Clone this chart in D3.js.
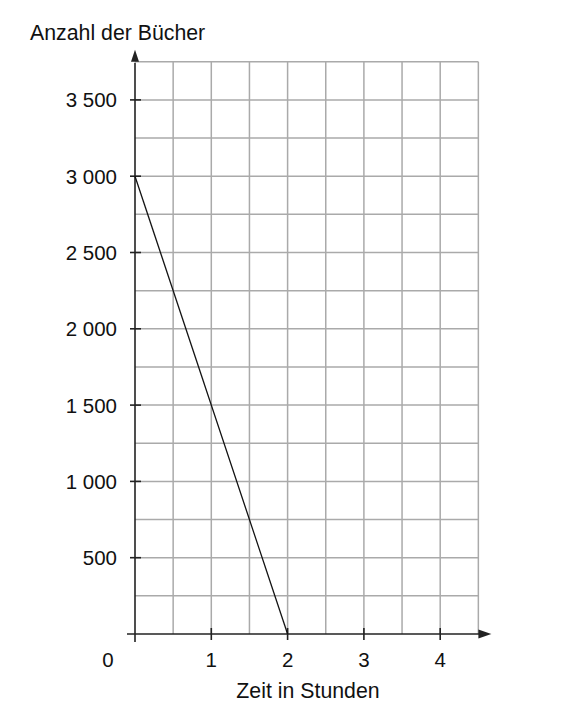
<!DOCTYPE html>
<html>
<head>
<meta charset="utf-8">
<script src="https://cdn.jsdelivr.net/npm/d3@7"></script>
<style>
  body { margin: 0; background: #fff; }
  text { font-family: "Liberation Sans", Arial, sans-serif; fill: #111; }
</style>
</head>
<body>
<div id="chart"></div>
<script>
const X_TICKS = [1, 2, 3, 4];
const Y_TICKS = [500, 1000, 1500, 2000, 2500, 3000, 3500];
const X_GRID = [0.5, 1, 1.5, 2, 2.5, 3, 3.5, 4, 4.5];
const Y_GRID = [250, 500, 750, 1000, 1250, 1500, 1750, 2000, 2250, 2500, 2750, 3000, 3250, 3500, 3750];
const LINE_X = [0, 2];
const LINE_Y = [3000, 0];
const Y_TITLE = "Anzahl der Bücher";
const X_TITLE = "Zeit in Stunden";

const WIDTH = 576, HEIGHT = 708;
const X0 = 135, Y0 = 634, UNIT = 76.3;

const svg = d3.select("#chart").append("svg")
  .attr("width", WIDTH)
  .attr("height", HEIGHT);

const xScale = d3.scaleLinear().domain([0, 4.5]).range([X0, X0 + 4.5 * UNIT]);
const yScale = d3.scaleLinear().domain([0, 3750]).range([Y0, Y0 - 7.5 * UNIT]);

// grid
svg.append("g").selectAll("line")
  .data(X_GRID)
  .enter().append("line")
  .attr("x1", d => xScale(d)).attr("x2", d => xScale(d))
  .attr("y1", yScale(0)).attr("y2", yScale(3750))
  .attr("stroke", "#aaa").attr("stroke-width", 1.5);

svg.append("g").selectAll("line")
  .data(Y_GRID)
  .enter().append("line")
  .attr("x1", xScale(0)).attr("x2", xScale(4.5))
  .attr("y1", d => yScale(d)).attr("y2", d => yScale(d))
  .attr("stroke", "#aaa").attr("stroke-width", 1.5);

// axes lines
const axisColor = "#222";
svg.append("line")
  .attr("x1", xScale(0) - 8).attr("x2", xScale(4.5) + 2)
  .attr("y1", yScale(0)).attr("y2", yScale(0))
  .attr("stroke", axisColor).attr("stroke-width", 1.6);
svg.append("line")
  .attr("x1", xScale(0)).attr("x2", xScale(0))
  .attr("y1", yScale(0) + 8).attr("y2", yScale(3750) + 1)
  .attr("stroke", axisColor).attr("stroke-width", 1.6);

// arrowheads
const xe = xScale(4.5), ye = yScale(0);
svg.append("path")
  .attr("d", `M${xe},${ye - 4.5} L${xe + 13},${ye} L${xe},${ye + 4.5} Z`)
  .attr("fill", axisColor);
const xa = xScale(0), ya = yScale(3750);
svg.append("path")
  .attr("d", `M${xa - 4},${ya} L${xa},${ya - 12} L${xa + 4},${ya} Z`)
  .attr("fill", axisColor);

// ticks
svg.append("g").selectAll("line")
  .data(X_TICKS)
  .enter().append("line")
  .attr("x1", d => xScale(d)).attr("x2", d => xScale(d))
  .attr("y1", yScale(0) - 6).attr("y2", yScale(0) + 6)
  .attr("stroke", axisColor).attr("stroke-width", 1.6);

svg.append("g").selectAll("line")
  .data(Y_TICKS)
  .enter().append("line")
  .attr("x1", xScale(0) - 5).attr("x2", xScale(0) + 6)
  .attr("y1", d => yScale(d)).attr("y2", d => yScale(d))
  .attr("stroke", axisColor).attr("stroke-width", 1.6);

// tick labels
const fmt = d => d >= 1000 ? Math.floor(d / 1000) + " " + d3.format("03d")(d % 1000) : String(d);

svg.append("g").selectAll("text")
  .data(Y_TICKS)
  .enter().append("text")
  .attr("x", xScale(0) - 18)
  .attr("y", d => yScale(d) + 7.5)
  .attr("text-anchor", "end")
  .attr("font-size", "20.5px")
  .text(fmt);

svg.append("g").selectAll("text")
  .data(X_TICKS)
  .enter().append("text")
  .attr("x", d => xScale(d))
  .attr("y", 667)
  .attr("text-anchor", "middle")
  .attr("font-size", "20.5px")
  .text(d => d);

svg.append("text")
  .attr("x", 108)
  .attr("y", 667)
  .attr("text-anchor", "middle")
  .attr("font-size", "20.5px")
  .text("0");

// titles
svg.append("text")
  .attr("x", 30).attr("y", 40)
  .attr("font-size", "21.3px")
  .text(Y_TITLE);

svg.append("text")
  .attr("x", 308).attr("y", 698)
  .attr("text-anchor", "middle")
  .attr("font-size", "21.3px")
  .text(X_TITLE);

// data line
const line = d3.line().x(d => xScale(d[0])).y(d => yScale(d[1]));
svg.append("path")
  .datum(LINE_X.map((x, i) => [x, LINE_Y[i]]))
  .attr("d", line)
  .attr("fill", "none")
  .attr("stroke", "#111")
  .attr("stroke-width", 1.3);
</script>
</body>
</html>
